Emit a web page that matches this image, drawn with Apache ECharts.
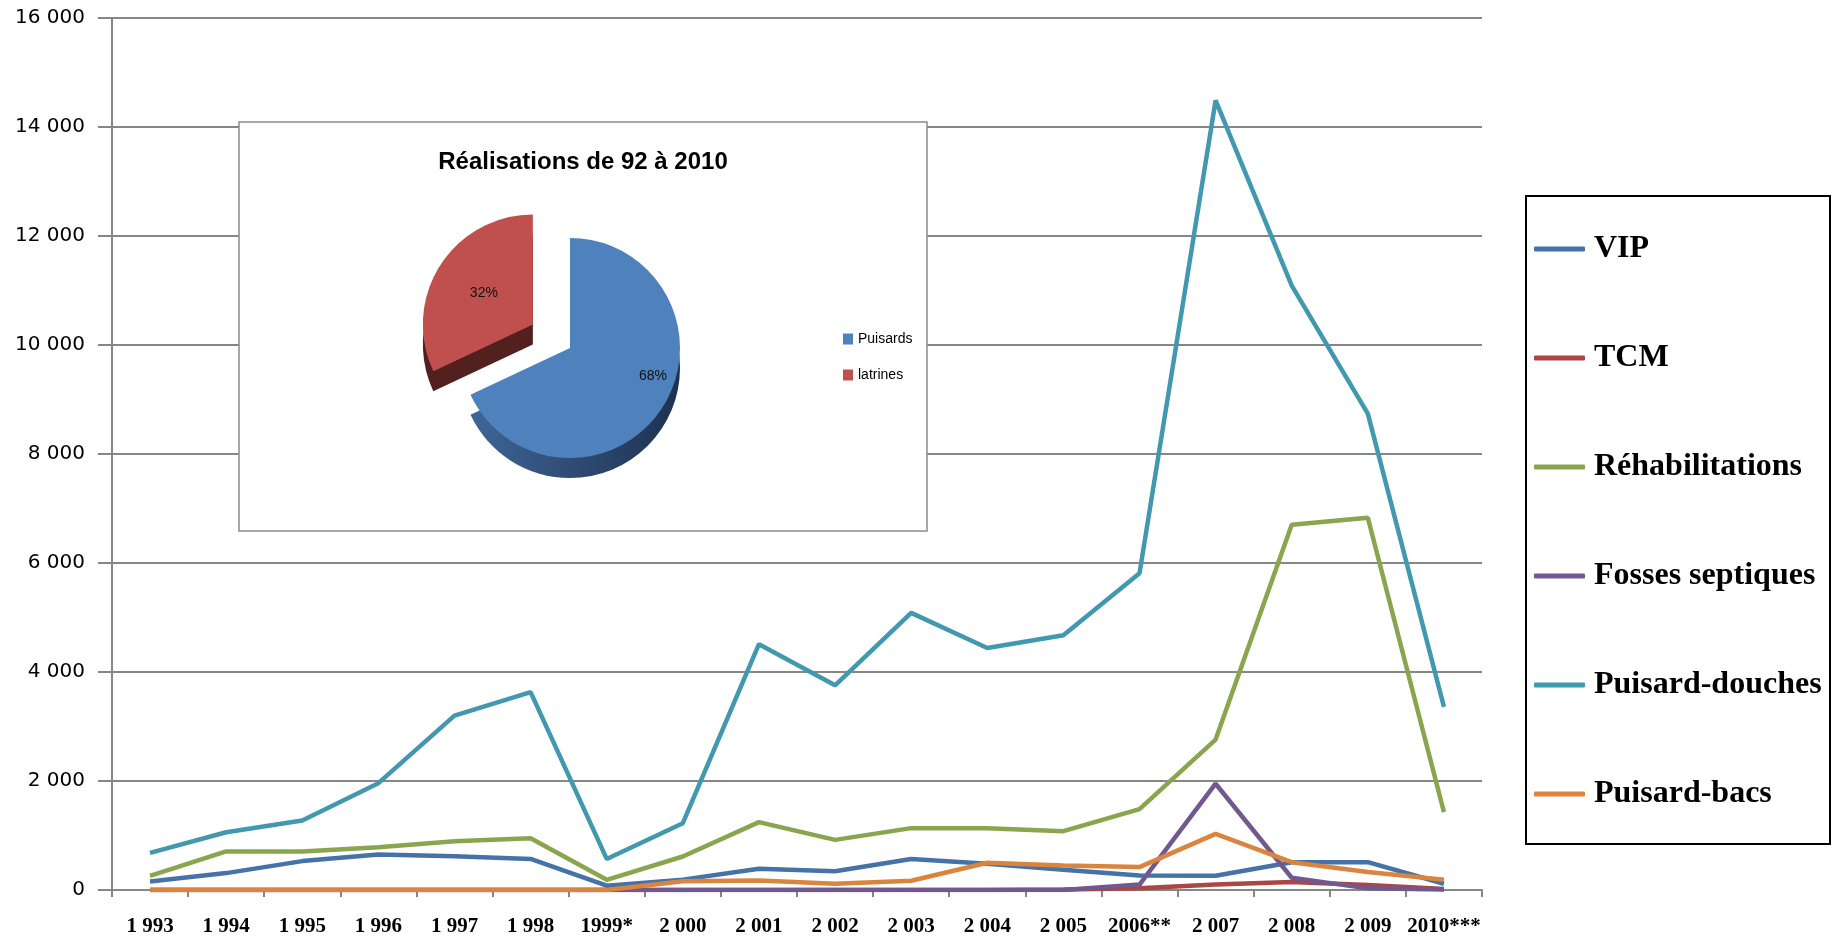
<!DOCTYPE html>
<html>
<head>
<meta charset="utf-8">
<script src="https://cdn.jsdelivr.net/npm/echarts@6/dist/echarts.min.js"></script>
<style>
html,body{margin:0;padding:0;background:#fff;}
#chart{width:1841px;height:939px;}
</style>
</head>
<body>
<div id="chart"></div>
<script>
const categories = ['1 993','1 994','1 995','1 996','1 997','1 998','1999*','2 000','2 001','2 002','2 003','2 004','2 005','2006**','2 007','2 008','2 009','2010***'];
const yTicks = [0, 2000, 4000, 6000, 8000, 10000, 12000, 14000, 16000];

const vip           = [155, 310, 530, 650, 620, 570, 80, 190, 390, 345, 570, 480, 370, 265, 260, 510, 510, 115];
const tcm           = [0, 0, 0, 0, 0, 0, 0, 0, 0, 0, 0, 0, 10, 30, 100, 145, 90, 20];
const rehab         = [260, 707, 707, 786, 896, 950, 187, 615, 1245, 920, 1135, 1135, 1080, 1485, 2760, 6700, 6830, 1430];
const fosses        = [0, 0, 0, 0, 0, 0, 0, 0, 0, 0, 0, 0, 0, 100, 1950, 225, 30, 10];
const puisardDouche = [680, 1060, 1275, 1960, 3200, 3630, 570, 1225, 4510, 3755, 5085, 4440, 4675, 5810, 14490, 11090, 8740, 3360];
const puisardBacs   = [0, 0, 0, 0, 0, 0, 0, 160, 175, 115, 170, 500, 450, 420, 1030, 510, 330, 190];

const seriesNames  = ['VIP', 'TCM', 'Réhabilitations', 'Fosses septiques', 'Puisard-douches', 'Puisard-bacs'];
const seriesColors = ['#4572A7', '#AA4643', '#89A54E', '#71588F', '#4198AF', '#DB843D'];
const seriesData   = [vip, tcm, rehab, fosses, puisardDouche, puisardBacs];

const pieTitle  = 'Réalisations de 92 à 2010';
const pieNames  = ['Puisards', 'latrines'];
const pieValues = [68, 32];
const pieColors = ['#4F81BD', '#C0504D'];
const pieSideColors = ['#2B4A72', '#51201F'];
const pieLabelOffsets = [[34, -3], [-60, -30]];

const chart = echarts.init(document.getElementById('chart'), null, {renderer: 'canvas'});

const lineSeries = seriesNames.map((n, i) => ({
  name: n,
  type: 'line',
  data: seriesData[i],
  symbol: 'none',
  showSymbol: false,
  z: 5,
  lineStyle: {width: 4.5, color: seriesColors[i]},
  itemStyle: {color: seriesColors[i]}
}));

const fmt = v => String(v).replace(/\B(?=(\d{3})+(?!\d))/g, ' ');

const option = {
  animation: false,
  backgroundColor: '#fff',
  grid: {left: 112, right: 359, top: 18, bottom: 49, containLabel: false},
  xAxis: {
    type: 'category',
    data: categories,
    boundaryGap: true,
    axisLine: {show: true, lineStyle: {color: '#868686', width: 2}},
    axisTick: {show: true, interval: 0, length: 7, lineStyle: {color: '#868686', width: 2}},
    axisLabel: {interval: 0, margin: 26, color: '#000', fontFamily: 'Liberation Serif', fontWeight: 'bold', fontSize: 21},
    splitLine: {show: false}
  },
  yAxis: {
    type: 'value',
    min: yTicks[0],
    max: yTicks[yTicks.length - 1],
    interval: yTicks[1] - yTicks[0],
    axisLine: {show: true, lineStyle: {color: '#868686', width: 2}},
    axisTick: {show: true, length: 14, lineStyle: {color: '#868686', width: 2}},
    axisLabel: {margin: 27, color: '#000', fontFamily: 'DejaVu Sans', fontSize: 20, formatter: fmt},
    splitLine: {show: true, lineStyle: {color: '#868686', width: 2}}
  },
  legend: [{
    data: seriesNames,
    orient: 'vertical',
    left: 1534,
    top: 232,
    padding: 0,
    itemGap: 75,
    icon: 'roundRect',
    itemWidth: 51,
    itemHeight: 5,
    textStyle: {fontFamily: 'Liberation Serif', fontWeight: 'bold', fontSize: 32, lineHeight: 34, color: '#000', padding: [0, 0, 0, 4]}
  }, {
    data: pieNames.map((n, i) => ({name: n, itemStyle: {color: pieColors[i]}})),
    orient: 'vertical',
    left: 843,
    top: 332,
    padding: 0,
    itemGap: 22,
    icon: 'rect',
    itemWidth: 10,
    itemHeight: 11,
    selectedMode: false,
    textStyle: {fontFamily: 'Liberation Sans', fontSize: 14, color: '#000'}
  }],
  graphic: [
    {type: 'rect', z: 1, shape: {x: 239, y: 122, width: 688, height: 409},
     style: {fill: '#fff', stroke: '#8c8c8c', lineWidth: 1.5}},
    {type: 'text', z: 2, x: 583, y: 162,
     style: {text: pieTitle, fill: '#000', font: 'bold 24px "Liberation Sans"', align: 'center', verticalAlign: 'middle'}},
    {type: 'rect', z: 1, shape: {x: 1526, y: 196, width: 304, height: 648},
     style: {fill: '#fff', stroke: '#000', lineWidth: 2}}
  ],
  series: [
    ...lineSeries,
    {
      name: 'pieTop',
      type: 'pie',
      z: 8,
      center: [570, 348],
      radius: [0, 110],
      startAngle: 90,
      clockwise: true,
      selectedMode: 'multiple',
      selectedOffset: 44,
      data: pieNames.map((n, i) => ({name: n, value: pieValues[i], selected: i === 1,
        itemStyle: {color: pieColors[i]}, label: {offset: pieLabelOffsets[i]}})),
      label: {show: true, position: 'inner', formatter: '{d}%', color: '#111', fontFamily: 'Liberation Sans', fontSize: 14},
      labelLine: {show: false},
      emphasis: {disabled: true}
    },
    {
      name: 'pieSide',
      type: 'pie',
      z: 7,
      silent: true,
      center: [570, 368],
      radius: [0, 110],
      startAngle: 90,
      clockwise: true,
      selectedMode: 'multiple',
      selectedOffset: 44,
      data: pieNames.map((n, i) => ({name: n, value: pieValues[i], selected: i === 1,
        itemStyle: {color: i === 0 ? new echarts.graphic.LinearGradient(0, 0, 1, 0, [{offset: 0, color: '#3F6598'}, {offset: 1, color: '#1E3150'}]) : pieSideColors[i]}})),
      label: {show: false},
      labelLine: {show: false},
      emphasis: {disabled: true}
    }
  ]
};
chart.setOption(option);
</script>
</body>
</html>
